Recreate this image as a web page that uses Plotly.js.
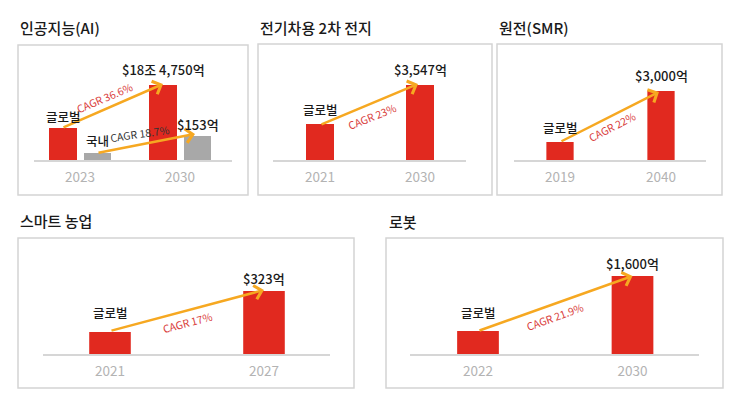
<!DOCTYPE html>
<html><head><meta charset="utf-8">
<script src="https://cdn.plot.ly/plotly-3.0.1.min.js"></script>
<style>html,body{margin:0;padding:0;background:#fff}#c{width:745px;height:413px}</style>
</head><body><div id="c"></div>
<script>
// ---- data ----
const titles = ['인공지능(AI)', '전기차용 2차 전지', '원전(SMR)', '스마트 농업', '로봇'];
const years = [['2023','2030'], ['2021','2030'], ['2019','2040'], ['2021','2027'], ['2022','2030']];
// bar heights as drawn (illustrative, relative units)
const globalHeights = [[32,75],[36,75],[18,69],[22,63],[23,78]];
const domesticHeights = [7,24];
const globalName = '글로벌';
const domesticName = '국내';
const globalLabels = ['$18조 4,750억','$3,547억','$3,000억','$323억','$1,600억'];
const domesticLabel = '$153억';
const cagrGlobal = ['CAGR 36.6%','CAGR 23%','CAGR 22%','CAGR 17%','CAGR 21.9%'];
const cagrDomestic = 'CAGR 18.7%';

// ---- geometry (pixels) ----
const W = 745, H = 413;
const geo = [
  {box:[18,45,248,195], axis:[34,232], zero:80, unit:100, base:160, bw:0.28, off:-0.31, title:[18,27],
   gShift:11, vShift:15, tail:[-0.18,0], head:[0.83,1], cagr:[0.25,62,-23]},
  {box:[258,44,492,195], axis:[273,466], zero:320, unit:100, base:160, bw:0.28, off:-0.14, title:[258,27],
   gShift:14, vShift:15, tail:[0,-1], head:[0.98,1], cagr:[0.52,43,-22]},
  {box:[497,44,722,195], axis:[514,706], zero:560, unit:101, base:160, bw:0.27, off:-0.135, title:[497,27],
   gShift:15, vShift:15, tail:[0,0], head:[0.98,-1], cagr:[0.52,33,-27]},
  {box:[18,238,354,388], axis:[43,330], zero:110, unit:154, base:354, bw:0.27, off:-0.135, title:[18,220],
   gShift:20, vShift:13, tail:[0,1], head:[1.0,1], cagr:[0.5,32,-15]},
  {box:[386,238,723,388], axis:[410,699], zero:478, unit:154.5, base:354, bw:0.27, off:-0.135, title:[387,221],
   gShift:19, vShift:13, tail:[0,0], head:[1.0,0], cagr:[0.5,38,-20]}
];

const RED = '#E1291F', GRAY = '#A8A8A8', ORANGE = '#F6A821';
const FONT = '"Noto Sans CJK KR", "Noto Sans", sans-serif';
const TXT = {family:FONT, color:'#1a1a1a', weight:500};

const traces = [];
const layout = {
  width: W, height: H, margin:{l:0,r:0,t:0,b:0},
  paper_bgcolor:'#fff', plot_bgcolor:'rgba(0,0,0,0)',
  showlegend:false, font:{family:FONT},
  shapes:[], annotations:[]
};

geo.forEach((g, i) => {
  const n = i === 0 ? '' : String(i+1);
  const xa = 'x'+n, ya = 'y'+n;
  const xr = [(g.axis[0]-g.zero)/g.unit, (g.axis[1]-g.zero)/g.unit];
  layout['xaxis'+n] = {
    domain:[g.axis[0]/W, g.axis[1]/W], range:xr, type:'category', anchor:ya,
    showline:true, linecolor:'#d6d6d6', linewidth:1.5, showgrid:false, zeroline:false,
    ticks:'', tickfont:{size:13.5, color:'#b3b3b3', family:FONT}, ticklabelstandoff:4, fixedrange:true
  };
  layout['yaxis'+n] = {
    domain:[1-g.base/H, 1-(g.base-100)/H], range:[0,100], visible:false, anchor:xa, fixedrange:true
  };
  const gh = globalHeights[i];
  traces.push({type:'bar', x:years[i], y:gh, xaxis:xa, yaxis:ya, width:g.bw, offset:g.off,
    marker:{color:RED}, hoverinfo:'skip'});
  const gc = g.off + g.bw/2; // center offset of red bar
  if (i === 0) {
    traces.push({type:'bar', x:years[i], y:domesticHeights, xaxis:xa, yaxis:ya, width:0.27, offset:0.04,
      marker:{color:GRAY}, hoverinfo:'skip'});
  }
  // box
  layout.shapes.push({type:'rect', xref:'paper', yref:'paper',
    x0:g.box[0]/W, x1:g.box[2]/W, y0:1-g.box[3]/H, y1:1-g.box[1]/H,
    line:{color:'#d4d4d4', width:1.5}, fillcolor:'rgba(0,0,0,0)', layer:'below'});
  // title
  layout.annotations.push({xref:'paper', yref:'paper', x:g.title[0]/W, y:1-g.title[1]/H,
    xanchor:'left', yanchor:'middle', text:titles[i], showarrow:false,
    font:Object.assign({}, TXT, {size:15})});
  // arrow global
  layout.annotations.push({xref:xa, yref:ya, axref:xa, ayref:ya,
    x:g.head[0], y:gh[1]+g.head[1], ax:g.tail[0], ay:gh[0]+g.tail[1],
    showarrow:true, arrowhead:4, arrowsize:1.1, arrowwidth:2.5, arrowcolor:ORANGE, text:'', standoff:0, startstandoff:0});
  // global name label
  layout.annotations.push({xref:xa, yref:ya, x:gc, y:gh[0], yshift:g.gShift, yanchor:'middle',
    text:globalName, showarrow:false, font:Object.assign({}, TXT, {size:12.5})});
  // value label
  layout.annotations.push({xref:xa, yref:ya, x:1+gc, y:gh[1], yshift:g.vShift, yanchor:'middle',
    text:globalLabels[i], showarrow:false, font:Object.assign({}, TXT, {size:13})});
  // CAGR
  layout.annotations.push({xref:xa, yref:ya, x:g.cagr[0], y:g.cagr[1], textangle:g.cagr[2],
    text:cagrGlobal[i], showarrow:false, font:{size:10.5, color:'#D9403C', family:FONT}});
  if (i === 0) {
    const dc = 0.04 + 0.135;
    layout.annotations.push({xref:xa, yref:ya, axref:xa, ayref:ya,
      x:1.15, y:domesticHeights[1]+2, ax:0.17, ay:domesticHeights[0],
      showarrow:true, arrowhead:4, arrowsize:1.1, arrowwidth:2.5, arrowcolor:ORANGE, text:'', standoff:0, startstandoff:0});
    layout.annotations.push({xref:xa, yref:ya, x:dc, y:domesticHeights[0], yshift:13, yanchor:'middle',
      text:domesticName, showarrow:false, font:Object.assign({}, TXT, {size:12.5})});
    layout.annotations.push({xref:xa, yref:ya, x:1+dc, y:domesticHeights[1], yshift:12, yanchor:'middle',
      text:domesticLabel, showarrow:false, font:Object.assign({}, TXT, {size:13})});
    layout.annotations.push({xref:xa, yref:ya, x:0.6, y:27, textangle:-8,
      text:cagrDomestic, showarrow:false, font:{size:10.5, color:'#333', family:FONT}});
  }
});

Plotly.newPlot('c', traces, layout, {staticPlot:true, displayModeBar:false});
</script></body></html>
